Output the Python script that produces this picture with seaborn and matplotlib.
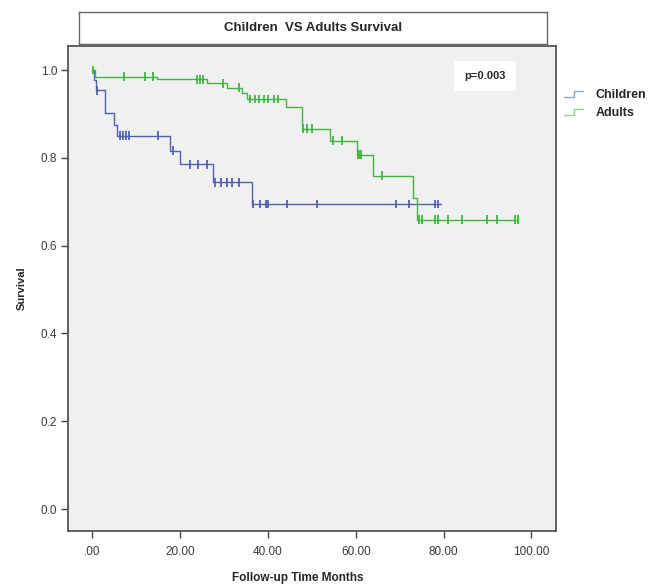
import numpy as np
import pandas as pd
import seaborn as sns
import matplotlib.pyplot as plt
from matplotlib.lines import Line2D
from matplotlib.legend_handler import HandlerBase

# step points (time, survival)
child_t = [0, 0.4, 0.9, 2.9, 5.0, 5.7, 17.7, 20.0, 27.4, 36.3, 79.5]
child_s = [1.0, 0.977, 0.954, 0.901, 0.875, 0.850, 0.816, 0.785, 0.744, 0.695, 0.695]
child_cens = [1.1, 6.2, 6.9, 7.7, 8.4, 15.0, 18.3, 22.3, 24.1, 26.1, 27.9, 29.3, 30.6,
              31.8, 33.3, 36.5, 38.2, 39.6, 40.1, 44.3, 51.1, 69.1, 72.1, 78.1, 78.8]

adult_t = [0, 0.5, 14.7, 26.0, 30.6, 34.0, 35.2, 44.1, 47.7, 54.1, 60.2, 64.0, 73.1, 74.0, 97.0]
adult_s = [1.0, 0.985, 0.979, 0.970, 0.960, 0.947, 0.934, 0.916, 0.866, 0.839, 0.807,
           0.759, 0.709, 0.659, 0.659]
adult_cens = [0.2, 7.1, 12.0, 13.9, 23.8, 24.5, 25.3, 29.8, 33.3, 35.9, 37.1, 38.0, 39.0,
              40.1, 41.4, 42.3, 47.9, 48.8, 50.0, 54.9, 56.8, 60.4, 60.8, 61.2, 65.9, 74.3,
              75.0, 78.1, 78.8, 81.1, 84.1, 89.8, 92.1, 96.3, 97.0]

groups = ['Children', 'Adults']
colors = {'Children': '#5161ad', 'Adults': '#42b442'}

steps = pd.concat([
    pd.DataFrame({'time': child_t, 'surv': child_s, 'group': 'Children'}),
    pd.DataFrame({'time': adult_t, 'surv': adult_s, 'group': 'Adults'}),
])


def cens_frame(t, s, c, name):
    idx = np.searchsorted(t, c, side='right') - 1
    return pd.DataFrame({'time': c, 'surv': np.array(s)[idx], 'group': name})


cens = pd.concat([cens_frame(child_t, child_s, child_cens, 'Children'),
                  cens_frame(adult_t, adult_s, adult_cens, 'Adults')])


class StepHandler(HandlerBase):
    # little step-shaped legend key like SPSS draws
    def create_artists(self, legend, orig_handle, xdescent, ydescent, width, height,
                       fontsize, trans):
        x0 = -xdescent
        xs = [x0, x0 + 0.5 * width, x0 + 0.5 * width, x0 + width]
        ys = [0.1 * height - ydescent, 0.1 * height - ydescent,
              0.9 * height - ydescent, 0.9 * height - ydescent]
        ln = Line2D(xs, ys, color=orig_handle.get_color(),
                    linewidth=orig_handle.get_linewidth(), alpha=orig_handle.get_alpha())
        ln.set_transform(trans)
        return [ln]


sns.set_style('white')
plt.rcParams['font.family'] = ['Liberation Sans', 'DejaVu Sans']

fig = plt.figure(figsize=(6.55, 5.86), dpi=100)
ax = fig.add_axes([0.1043, 0.0939, 0.7446, 0.8276])
ax.set_facecolor('#f0f0f0')

sns.lineplot(data=steps, x='time', y='surv', hue='group', palette=colors,
             estimator=None, sort=False, drawstyle='steps-post', linewidth=1.0,
             legend=False, ax=ax)
sns.scatterplot(data=cens, x='time', y='surv', hue='group', palette=colors,
                marker='|', s=40, linewidth=1.3, legend=False, ax=ax)

ax.set_xlim(-5.47, 105.6)
ax.set_ylim(-0.05, 1.0547)
ax.set_xticks([0, 20, 40, 60, 80, 100])
ax.set_xticklabels(['.00', '20.00', '40.00', '60.00', '80.00', '100.00'])
ax.set_yticks([0, 0.2, 0.4, 0.6, 0.8, 1.0])
ax.set_yticklabels(['0.0', '0.2', '0.4', '0.6', '0.8', '1.0'])
ax.tick_params(axis='both', direction='out', length=5, width=1, color='#444444',
               labelsize=8.5, labelcolor='#3a3a3a', bottom=True, left=True, pad=3)
ax.tick_params(axis='x', pad=6)
for sp in ax.spines.values():
    sp.set_color('#555555')
    sp.set_linewidth(1.3)

ax.set_xlabel('')
ax.set_ylabel('Survival', fontsize=8, fontweight='bold', labelpad=10)
fig.text(0.455, 1 - 578 / 586, 'Follow-up Time Months', ha='center', va='center',
         fontsize=8.5, fontweight='bold')

ax.text(0.854, 0.9386, 'p=0.003', transform=ax.transAxes, ha='center', va='center',
        fontsize=8, fontweight='bold',
        bbox=dict(boxstyle='square,pad=0.9', facecolor='white', edgecolor='none'))

# title box
tax = fig.add_axes([79 / 655, 1 - 44.3 / 586, (546.6 - 79) / 655, (44.3 - 12) / 586])
tax.set_xticks([])
tax.set_yticks([])
for sp in tax.spines.values():
    sp.set_color('#666666')
    sp.set_linewidth(1.0)
tax.text(0.5, 0.5, 'Children  VS Adults Survival', ha='center', va='center',
         fontsize=9.5, fontweight='bold')

handles = [Line2D([], [], color=colors[g], linewidth=1.0, alpha=0.6) for g in groups]
fig.legend(handles, groups, loc='upper left', bbox_to_anchor=(553 / 655, 1 - 78 / 586),
           frameon=False, handlelength=1.5, handleheight=0.6, handletextpad=1.0,
           labelspacing=0.5, prop={'size': 9, 'weight': 'bold'},
           handler_map={Line2D: StepHandler()})

fig.savefig('out.png', dpi=100)
